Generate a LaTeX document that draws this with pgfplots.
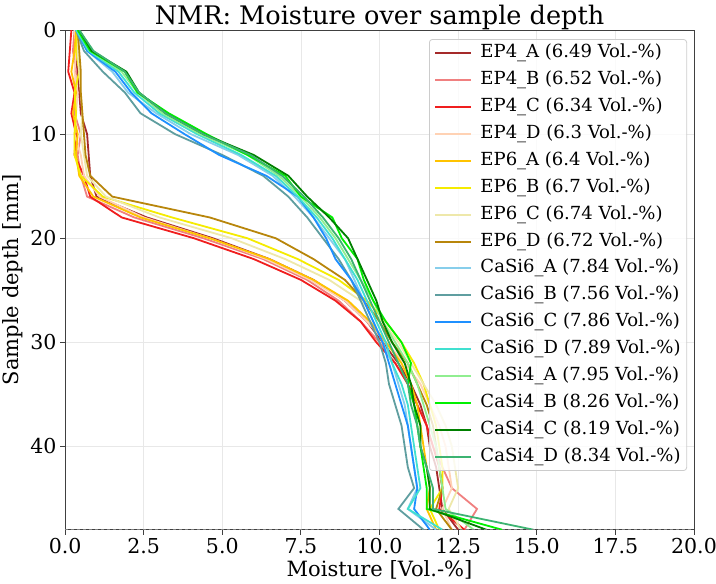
\documentclass[border=0pt]{standalone}
\usepackage{fontspec}
\setmainfont{DejaVu Serif}
\usepackage{pgfplots}
\pgfplotsset{compat=1.18}
\usepackage{pgfplotstable}

\definecolor{cEPfa}{RGB}{165,42,42}
\definecolor{cEPfb}{RGB}{240,128,128}
\definecolor{cEPfc}{RGB}{240,30,30}
\definecolor{cEPfd}{RGB}{255,210,180}
\definecolor{cEPsa}{RGB}{255,195,0}
\definecolor{cEPsb}{RGB}{245,235,0}
\definecolor{cEPsc}{RGB}{238,232,170}
\definecolor{cEPsd}{RGB}{184,134,11}
\definecolor{cCSa}{RGB}{135,206,235}
\definecolor{cCSb}{RGB}{95,158,160}
\definecolor{cCSc}{RGB}{30,144,255}
\definecolor{cCSd}{RGB}{64,224,208}
\definecolor{cCFa}{RGB}{144,238,144}
\definecolor{cCFb}{RGB}{0,240,0}
\definecolor{cCFc}{RGB}{0,128,0}
\definecolor{cCFd}{RGB}{60,179,113}

% depth [mm] and moisture [Vol.-%] per sample
\pgfplotstableread{
d  e4a  e4b  e4c  e4d  e6a  e6b  e6c  e6d  c6a  c6b  c6c  c6d  c4a  c4b  c4c  c4d
0  0.35 0.30 0.20 0.30 0.35 0.40 0.45 0.40 0.35 0.35 0.35 0.35 0.40 0.40 0.45 0.45
2  0.30 0.25 0.15 0.35 0.30 0.35 0.40 0.45 0.70 0.60 0.70 0.75 0.80 0.80 0.85 0.90
4  0.40 0.35 0.10 0.30 0.20 0.45 0.45 0.50 1.50 1.20 1.60 1.70 1.80 1.90 1.95 1.90
6  0.45 0.30 0.30 0.40 0.35 0.30 0.50 0.50 2.00 1.90 2.10 2.20 2.30 2.30 2.35 2.35
8  0.50 0.30 0.20 0.35 0.25 0.35 0.55 0.55 2.90 2.40 2.75 3.00 3.10 3.30 3.20 3.20
10 0.70 0.50 0.35 0.30 0.40 0.30 0.50 0.60 4.00 3.50 3.80 4.20 4.30 4.50 4.40 4.40
12 0.75 0.40 0.30 0.50 0.35 0.30 0.60 0.65 5.50 5.00 4.90 5.60 5.80 5.80 6.00 5.90
14 0.80 0.50 0.60 0.60 0.45 0.50 0.70 0.80 6.60 6.30 6.40 6.70 6.80 7.00 7.10 6.90
16 1.00 0.70 0.80 1.10 0.90 1.20 1.30 1.50 7.30 7.10 7.40 7.40 7.50 7.50 7.70 7.60
18 2.60 2.20 1.80 2.50 2.40 3.40 3.00 4.60 7.90 7.70 7.90 8.00 8.10 8.50 8.40 8.20
20 4.70 4.40 4.10 4.60 4.60 5.80 5.30 6.70 8.40 8.20 8.30 8.50 8.60 8.80 9.00 8.70
22 6.50 6.30 6.00 6.40 6.50 7.40 7.00 7.90 8.90 8.70 8.60 8.90 9.00 9.30 9.30 9.10
24 7.90 7.70 7.50 7.80 7.90 8.70 8.40 8.90 9.20 9.10 9.10 9.30 9.40 9.50 9.60 9.40
26 8.90 8.70 8.60 8.90 9.00 9.60 9.40 9.50 9.50 9.40 9.50 9.60 9.80 9.80 9.90 9.70
28 9.60 9.40 9.40 9.60 9.70 10.2 10.1 10.0 9.80 9.70 9.80 9.90 10.1 10.2 10.1 10.0
30 10.1 10.0 9.90 10.2 10.2 10.7 10.6 10.4 10.1 10.0 10.1 10.2 10.5 10.7 10.4 10.3
32 10.6 10.5 10.5 10.8 10.7 11.1 11.0 10.9 10.4 10.2 10.3 10.4 10.9 11.0 10.8 10.6
34 11.0 10.9 10.9 11.3 11.0 11.4 11.4 11.2 10.6 10.3 10.5 10.7 11.2 10.9 11.0 10.9
36 11.3 11.2 11.2 11.6 11.2 11.6 11.8 11.5 10.8 10.5 10.7 10.9 11.4 11.1 11.1 11.0
38 11.5 11.5 11.5 11.9 11.3 11.8 12.1 11.7 10.9 10.7 10.9 11.0 11.6 11.2 11.3 11.2
40 11.6 11.7 11.7 12.1 11.4 11.9 12.3 11.8 11.0 10.8 11.0 11.1 11.8 11.3 11.3 11.3
42 11.8 12.0 11.9 12.2 11.5 12.0 12.4 11.9 11.1 10.9 11.1 11.2 11.9 11.4 11.5 11.5
44 11.9 12.3 12.0 12.3 11.6 12.0 12.5 12.0 11.2 11.1 11.2 11.3 12.0 11.5 11.6 11.7
46 12.0 13.1 11.9 12.0 11.5 11.6 12.2 11.8 10.9 10.6 11.1 10.9 12.1 11.5 11.6 11.7
48 12.5 12.7 12.7 12.3 11.8 11.9 12.6 12.3 11.8 11.4 11.6 12.0 13.0 13.9 13.4 14.9
}\moist

\begin{document}
\begin{tikzpicture}
\begin{axis}[
    width=628bp, height=499bp, scale only axis,
    xmin=0, xmax=20, ymin=0, ymax=48, y dir=reverse,
    xtick={0,2.5,...,20}, ytick={0,10,20,30,40},
    xticklabel style={/pgf/number format/.cd, fixed, fixed zerofill, precision=1},
    /pgf/number format/assume math mode=true,
    tick label style={font=\fontsize{20.5bp}{24bp}\selectfont},
    label style={font=\fontsize{21bp}{25bp}\selectfont},
    title style={font=\fontsize{25.5bp}{30bp}\selectfont, yshift=-9bp},
    title={NMR: Moisture over sample depth},
    xlabel={Moisture [Vol.-\%]},
    ylabel={Sample depth [mm]},
    xlabel style={yshift=0bp},
    ylabel style={yshift=1bp},
    grid=major, major grid style={black!9, line width=0.8bp},
    tick pos=left, tick align=outside, major tick length=5bp,
    axis line style={black!75, line width=0.9bp},
    every tick/.style={black!75, line width=0.9bp},
    every axis plot/.append style={line width=1.8bp},
    legend cell align=left,
    legend image code/.code={\draw[#1, line width=2bp] (0bp,0bp) -- (36bp,0bp);},
    legend style={at={(0.989,0.982)}, anchor=north east,
        font=\fontsize{18bp}{21bp}\selectfont,
        draw=black!20, line width=0.8bp, rounded corners=3bp,
        fill=white, fill opacity=0.8, text opacity=1,
        inner xsep=5bp, inner ysep=4bp,
        row sep=7.9bp, column sep=7bp,
        nodes={inner sep=1bp, text height=13bp, text depth=4bp}},
]
\addplot[cEPfa] table[x=e4a, y=d] {\moist};
\addplot[cEPfb] table[x=e4b, y=d] {\moist};
\addplot[cEPfc] table[x=e4c, y=d] {\moist};
\addplot[cEPfd] table[x=e4d, y=d] {\moist};
\addplot[cEPsa] table[x=e6a, y=d] {\moist};
\addplot[cEPsb] table[x=e6b, y=d] {\moist};
\addplot[cEPsc] table[x=e6c, y=d] {\moist};
\addplot[cEPsd] table[x=e6d, y=d] {\moist};
\addplot[cCSa] table[x=c6a, y=d] {\moist};
\addplot[cCSb] table[x=c6b, y=d] {\moist};
\addplot[cCSc] table[x=c6c, y=d] {\moist};
\addplot[cCSd] table[x=c6d, y=d] {\moist};
\addplot[cCFa] table[x=c4a, y=d] {\moist};
\addplot[cCFb] table[x=c4b, y=d] {\moist};
\addplot[cCFc] table[x=c4c, y=d] {\moist};
\addplot[cCFd] table[x=c4d, y=d] {\moist};
\addplot[forget plot, black!50, dashed, line width=1bp] coordinates {(0,48) (20,48)};
\legend{EP4\_A (6.49 Vol.-\%), EP4\_B (6.52 Vol.-\%), EP4\_C (6.34 Vol.-\%),
        EP4\_D (6.3 Vol.-\%), EP6\_A (6.4 Vol.-\%), EP6\_B (6.7 Vol.-\%),
        EP6\_C (6.74 Vol.-\%), EP6\_D (6.72 Vol.-\%),
        CaSi6\_A (7.84 Vol.-\%), CaSi6\_B (7.56 Vol.-\%), CaSi6\_C (7.86 Vol.-\%),
        CaSi6\_D (7.89 Vol.-\%), CaSi4\_A (7.95 Vol.-\%), CaSi4\_B (8.26 Vol.-\%),
        CaSi4\_C (8.19 Vol.-\%), CaSi4\_D (8.34 Vol.-\%)}
\end{axis}
\pgfresetboundingbox
\path[use as bounding box] ([xshift=-65bp,yshift=-54bp]current axis.south west)
    rectangle ([xshift=22bp,yshift=30bp]current axis.north east);
\end{tikzpicture}
\end{document}
